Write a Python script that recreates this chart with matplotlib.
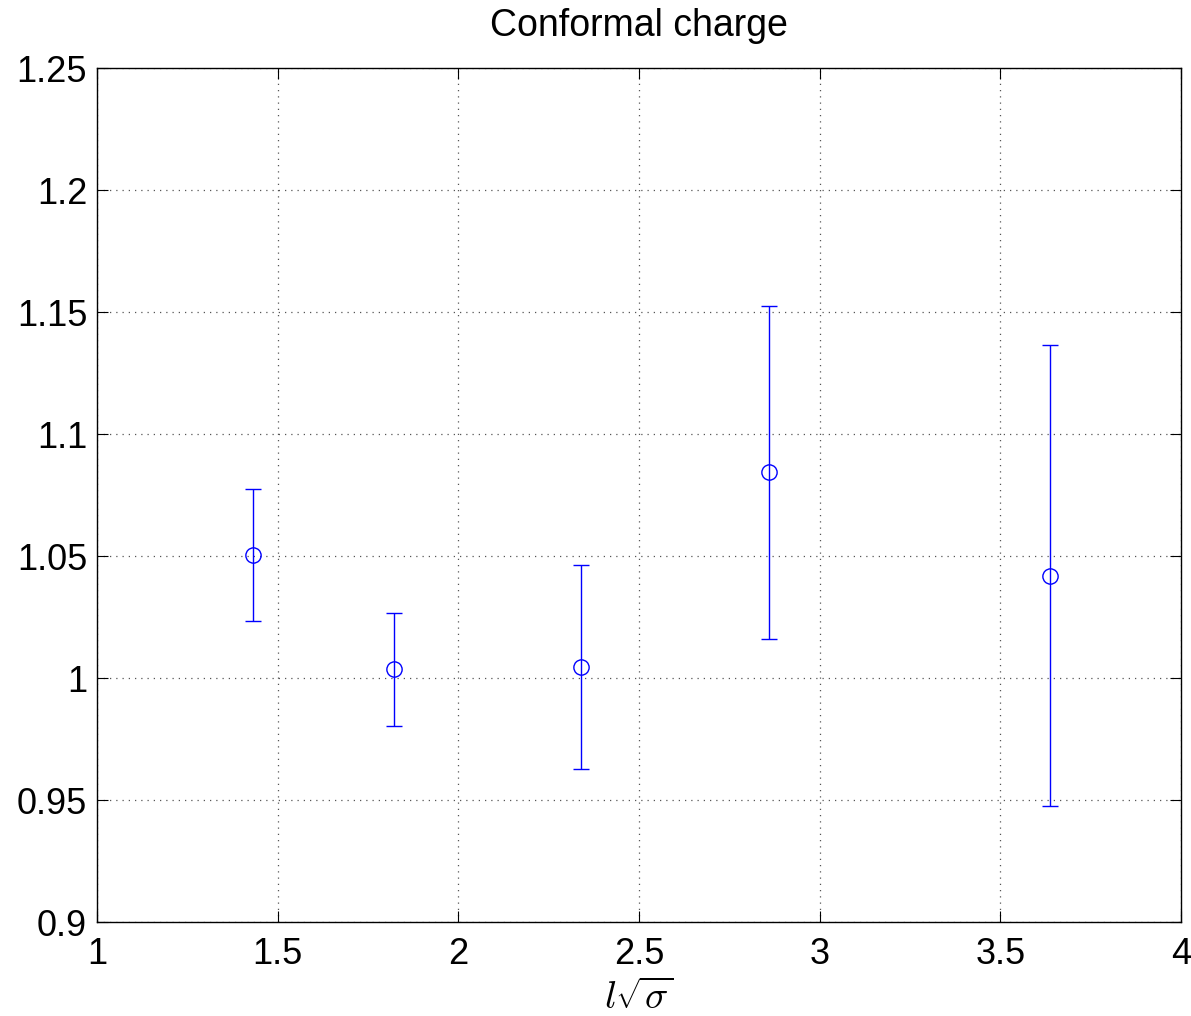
import matplotlib
matplotlib.use('Agg')
import matplotlib.pyplot as plt

plt.rcParams['font.family'] = ['Liberation Sans', 'DejaVu Sans']
plt.rcParams['mathtext.fontset'] = 'cm'

# data
x = [1.432, 1.822, 2.340, 2.860, 3.638]
y = [1.0505, 1.0035, 1.0047, 1.0843, 1.0420]
yerr = [0.0271, 0.0232, 0.0418, 0.0682, 0.0945]

xticks = [1, 1.5, 2, 2.5, 3, 3.5, 4]
xticklabels = ['1', '1.5', '2', '2.5', '3', '3.5', '4']
yticks = [0.9, 0.95, 1.0, 1.05, 1.1, 1.15, 1.2, 1.25]
yticklabels = ['0.9', '0.95', '1', '1.05', '1.1', '1.15', '1.2', '1.25']

fig = plt.figure(figsize=(11.91, 10.16), dpi=100)
ax = fig.add_axes([0.0814, 0.0925, 0.9102, 0.8405])

ax.errorbar(x, y, yerr=yerr, fmt='o', color='#0000ff', mfc='none',
            markersize=11, markeredgewidth=1.0, elinewidth=1.0,
            capsize=6, capthick=1.0)

ax.set_xlim(1, 4)
ax.set_ylim(0.9, 1.25)
ax.set_xticks(xticks)
ax.set_xticklabels(xticklabels)
ax.set_yticks(yticks)
ax.set_yticklabels(yticklabels)
ax.tick_params(direction='in', top=True, right=True, labelsize=26,
               length=8, width=0.8)
ax.tick_params(axis='x', pad=11)
ax.tick_params(axis='y', pad=7)
ax.grid(True, color='#555555', linestyle=(0, (1, 4)), linewidth=0.9)
for s in ax.spines.values():
    s.set_linewidth(1.0)

ax.set_title('Conformal charge', fontsize=27, pad=23)
ax.set_xlabel(r'$l\sqrt{\sigma}$', fontsize=28, labelpad=6)

fig.savefig('out.png', dpi=100)
